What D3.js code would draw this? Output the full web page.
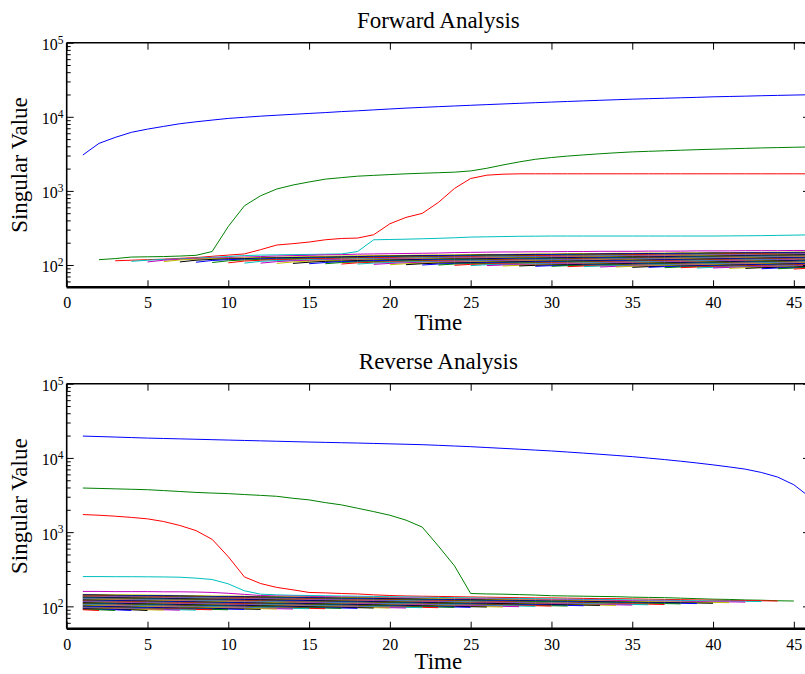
<!DOCTYPE html>
<html><head><meta charset="utf-8">
<script src="https://cdn.jsdelivr.net/npm/d3@7"></script>
<style>
body{margin:0;background:#fff}
svg{display:block}
text{font-family:"Liberation Serif","Times New Roman",serif;fill:#000}
</style>
</head><body><script>
// ---------------- DATA ----------------
const lastStep = 46;
const xDomain = [0, 46];
const yDomain = [50, 100000];
const xTickValues = [0, 5, 10, 15, 20, 25, 30, 35, 40, 45];
const yMajorTicks = [100, 1000, 10000, 100000];
const yMajorExponents = ["2", "3", "4", "5"];
const yMinorTicks = [60,70,80,90,200,300,400,500,600,700,800,900,2000,3000,4000,5000,6000,7000,8000,9000,20000,30000,40000,50000,60000,70000,80000,90000];
const colorCycle = ["#0000ff", "#008000", "#ff0000", "#00bfbf", "#bf00bf", "#bfbf00", "#000000"];
const panelTitles = ["Forward Analysis", "Reverse Analysis"];
const xAxisLabel = "Time";
const yAxisLabel = "Singular Value";

// Forward analysis: singular value k exists from step k+1 to the last step
const forwardLines = [
[3050,4380,5270,6170,6820,7420,8060,8560,9030,9510,9850,10200,10500,10800,11100,11400,11750,12050,12400,12750,13100,13400,13700,14000,14300,14600,14900,15200,15500,15800,16100,16400,16700,17000,17300,17550,17800,18050,18300,18600,18800,19000,19250,19450,19650,19850],
[118,122,128,129,130,132,135,152,331,630,860,1060,1200,1320,1440,1510,1580,1620,1660,1700,1730,1760,1790,1860,2020,2240,2460,2670,2820,2950,3060,3170,3270,3360,3420,3480,3540,3600,3650,3700,3750,3800,3840,3880,3920],
[114,116,118,120,123,126,131,136,141,161,186,194,204,219,228,231,256,360,439,497,698,1080,1470,1630,1680,1700,1700,1700,1700,1700,1700,1700,1700,1700,1700,1700,1700,1700,1700,1700,1700,1700,1700,1700],
[112,116,119,121,124,127,130,134,136,137,138,139,140,141,152,219,221,223,226,229,233,238,240,242,244,245,246,246,246,246,246,246,246,246,246,246,246,247,248,249,251,253,255],
[110,116,119,122,124,126,128,130,132,134,135,137,138,140,141,142,143,144,145,147,148,149,150,150,151,151,152,152,153,153,153,154,154,154,155,155,155,156,156,156,157,157],
[111,117,120,122,123,125,126,127,129,130,131,132,133,134,134,135,136,137,137,138,139,139,140,141,141,142,143,143,144,144,145,145,146,146,147,147,148,148,149,149,150],
[110,116,119,121,122,124,125,126,127,128,129,130,131,132,133,134,134,135,136,137,137,138,139,139,140,140,141,142,142,143,143,144,144,145,145,146,146,147,148,148],
[109,115,118,120,121,123,124,125,126,127,128,129,130,131,132,133,133,134,135,136,136,137,138,138,139,140,140,141,141,142,143,143,144,144,145,145,146,146,147],
[108,114,117,119,120,122,123,124,125,126,127,128,129,130,130,131,132,133,133,134,135,135,136,137,137,138,139,139,140,140,141,142,142,143,143,144,144,145],
[107,113,116,118,119,121,122,123,124,125,126,127,128,128,129,130,131,131,132,133,134,134,135,136,136,137,138,138,139,139,140,141,141,142,142,143,144],
[106,112,115,116,118,119,120,121,122,123,124,125,126,127,127,128,129,130,130,131,132,132,133,134,134,135,136,136,137,137,138,139,139,140,141,142],
[106,111,114,115,117,118,119,120,121,122,123,124,125,125,126,127,128,128,129,130,131,131,132,133,133,134,135,135,136,137,137,138,139,140,141],
[105,110,113,114,116,117,118,119,120,121,122,123,123,124,125,126,126,127,128,129,129,130,131,131,132,133,133,134,135,135,136,137,138,139],
[105,109,112,113,115,116,117,118,119,120,121,121,122,123,124,124,125,126,127,127,128,129,129,130,131,131,132,133,134,135,136,137,138],
[104,108,111,112,114,115,116,117,118,118,119,120,121,121,122,123,124,124,125,126,126,127,128,128,129,130,131,132,133,134,135,136],
[104,108,110,111,113,114,115,116,117,117,118,119,120,120,121,122,123,123,124,125,125,126,127,128,129,130,131,132,133,134,135],
[103,107,109,110,112,113,114,115,115,116,117,118,118,119,120,121,121,122,123,124,124,125,126,127,128,129,130,131,132,133],
[103,106,108,110,111,112,113,114,115,115,116,117,118,118,119,120,121,121,122,123,124,125,126,127,128,129,130,131,132],
[102,105,107,109,110,111,112,113,114,114,115,116,117,117,118,119,120,120,121,122,123,124,125,126,127,128,129,130],
[101,104,106,108,109,110,111,112,113,114,114,115,116,117,117,118,119,120,121,122,123,124,125,126,127,128,129],
[101,104,106,107,108,109,110,111,112,113,113,114,115,116,116,117,118,119,120,121,122,123,124,125,126,127],
[100,103,105,106,107,108,109,110,111,112,113,113,114,115,116,117,118,119,120,121,122,123,124,125,126],
[100,103,104,105,106,107,108,109,110,111,112,112,113,114,115,116,117,118,119,120,121,122,123,124],
[99,102,103,104,105,106,107,108,109,110,111,112,113,114,115,116,117,118,119,120,121,122,123],
[98,101,102,103,104,105,106,107,108,109,110,111,112,113,114,115,116,117,118,119,120,121],
[98,100,101,102,103,104,105,106,107,108,109,110,111,112,113,114,115,116,117,118,120],
[97,99,100,101,102,103,104,105,106,107,108,109,110,111,112,113,114,115,116,118],
[97,99,100,101,102,103,104,105,106,107,108,109,110,111,112,113,114,115,117],
[96,98,99,100,101,102,103,104,105,106,107,108,109,110,111,112,113,115],
[96,98,99,100,101,102,103,104,105,106,107,108,109,110,111,112,114],
[95,97,98,99,100,101,102,103,104,105,106,107,108,109,110,112],
[95,97,98,99,100,101,102,103,104,105,106,107,108,109,111],
[94,96,97,98,99,100,101,102,103,104,105,106,107,109],
[94,96,97,98,99,100,101,102,103,104,105,106,108],
[93,95,96,97,98,99,100,101,102,103,104,106],
[93,95,96,97,98,99,100,101,102,103,105],
[92,94,95,96,97,98,99,100,101,103],
[92,94,95,96,97,98,99,100,102],
[91,93,94,95,96,97,98,100],
[91,93,94,95,96,97,99],
[90,92,93,94,95,97],
[90,92,93,94,96],
[89,91,92,94],
[89,91,93],
[88,91],
[88]
];

// Reverse analysis: singular value k exists from step 1 to step lastStep-k
const reverseLines = [
[19700,19400,19100,18800,18500,18280,18060,17840,17620,17400,17190,16980,16780,16570,16370,16200,16030,15870,15670,15470,15280,15080,14780,14470,14170,13800,13450,13100,12750,12410,12000,11600,11200,10800,10400,9950,9500,9030,8550,8060,7560,7060,6360,5520,4350,2950],
[3930,3880,3830,3780,3730,3630,3530,3430,3360,3300,3210,3130,3040,2860,2720,2500,2330,2100,1890,1690,1450,1170,650,351,149,147,146,144,142,139,138,137,136,135,133,132,131,129,127,125,124,122,121,119,118],
[1725,1690,1640,1580,1510,1390,1230,1050,800,467,249,203,180,167,154,152,149,147,143,140,138,137,136,135,134,133,132,131,130,130,129,128,127,127,126,125,124,123,122,121,120,120,119,118],
[252,252,251,251,250,249,247,240,230,201,162,146,143,141,140,139,138,137,136,135,134,133,132,131,130,129,128,128,127,126,125,124,124,123,122,121,121,120,119,118,118,117,116],
[159,159,158,158,158,157,157,156,154,150,145,140,138,137,136,135,134,133,132,131,130,129,128,128,127,126,125,124,124,123,122,121,121,120,119,118,118,117,116,115,115,114],
[145,144,143,143,142,141,140,139,138,138,137,136,135,134,133,132,132,131,130,129,128,127,127,126,125,124,123,122,122,121,120,119,118,117,116,116,115,114,113,113,112],
[143,142,141,140,140,139,138,137,136,135,135,134,133,132,131,130,129,129,128,127,126,125,124,123,123,122,121,120,119,118,118,117,116,115,114,113,113,112,111,110],
[142,141,140,139,139,138,137,136,135,134,133,132,132,131,130,129,128,127,126,125,125,124,123,122,121,120,119,118,118,117,116,115,114,113,112,111,111,110,109],
[140,139,138,137,137,136,135,134,133,132,131,130,130,129,128,127,126,125,124,124,123,122,121,120,119,118,117,117,116,115,114,113,112,111,111,110,109,108],
[139,138,137,136,135,134,133,133,132,131,130,129,128,127,126,125,124,123,122,122,121,120,119,118,117,116,115,114,113,112,111,111,110,109,108,107,106],
[137,136,135,134,133,132,132,131,130,129,128,127,126,125,124,123,122,121,121,120,119,118,117,116,115,114,113,112,111,111,110,109,108,107,106,105],
[136,135,134,133,132,131,130,129,128,128,127,126,125,124,123,122,121,120,119,118,117,116,115,114,113,112,112,111,110,109,108,107,106,105,104],
[134,133,132,131,130,129,128,127,126,126,125,124,123,122,121,120,119,118,117,116,115,114,113,112,111,110,110,109,108,107,106,105,104,103],
[133,132,131,130,129,128,127,126,125,125,124,123,122,121,120,119,118,117,116,115,114,113,112,111,110,110,109,108,107,106,105,104,103],
[131,130,129,128,127,126,125,124,124,123,122,121,120,119,118,117,116,115,114,113,112,111,110,109,108,107,106,106,105,104,103,102],
[130,129,128,127,126,125,124,123,122,121,120,119,118,117,116,115,114,114,113,112,111,110,109,108,107,106,105,104,103,102,101],
[128,127,126,125,124,123,122,121,121,120,119,118,117,116,115,114,113,112,111,110,109,108,107,106,105,104,104,103,102,101],
[127,126,125,124,123,122,121,120,119,118,117,116,115,114,114,113,112,111,110,109,108,107,106,105,104,103,102,101,100],
[125,124,123,122,121,120,119,118,117,116,115,114,113,112,112,111,110,109,108,107,106,105,104,103,102,101,100,99],
[124,123,122,121,120,119,118,117,116,115,114,113,112,111,110,109,108,107,106,105,104,103,102,101,100,99,98],
[122,121,120,119,118,117,116,115,114,113,112,111,110,110,109,108,107,106,105,104,103,102,101,100,99,98],
[121,120,119,118,117,116,115,114,113,112,111,110,109,108,107,106,105,104,103,102,101,100,99,98,97],
[119,118,117,116,115,114,113,112,111,110,109,108,108,107,106,105,104,103,102,101,100,99,98,97],
[118,117,116,115,114,113,112,111,110,109,108,107,106,105,104,103,102,101,100,99,98,97,96],
[116,115,114,113,112,111,110,109,108,107,106,106,105,104,103,102,101,100,99,98,97,96],
[115,114,113,112,111,110,109,108,107,106,105,104,103,102,101,100,99,98,97,96,95],
[113,112,111,110,109,108,107,106,105,104,103,103,102,101,100,99,98,97,96,95],
[112,111,110,109,108,107,106,105,104,103,103,102,101,100,99,98,97,96,95],
[110,109,108,107,106,105,104,103,102,102,101,100,99,98,97,96,95,94],
[109,108,107,106,105,104,103,102,101,101,100,99,98,97,96,95,94],
[107,106,105,104,103,102,101,100,99,99,98,97,96,95,94,93],
[106,105,104,103,102,101,100,99,99,98,97,96,95,94,93],
[104,103,102,101,100,99,98,98,97,96,95,94,93,92],
[103,102,101,100,99,98,97,97,96,95,94,93,92],
[101,100,99,98,97,96,95,95,94,93,92,91],
[100,99,98,97,96,95,94,93,92,92,91],
[98,97,96,95,94,93,92,92,91,90],
[97,96,95,94,93,92,92,91,90],
[96,95,94,93,92,91,90,89],
[95,94,93,92,91,90,89],
[94,93,92,91,90,89],
[93,92,91,90,88],
[92,91,90,88],
[91,90,88],
[90,88],
[88]
];

// ---------------- CHART ----------------
const W = 805, H = 674;
const svg = d3.select("body").append("svg").attr("width", W).attr("height", H);

const plotLeft = 66.7, plotRight = 810;
const panels = [
  {top: 42.7, bottom: 287.3, lines: forwardLines, align: "end", labelGap: 42.8},
  {top: 383.7, bottom: 628.7, lines: reverseLines, align: "start", labelGap: 40.3}
];

panels.forEach((p, pi) => {
  const x = d3.scaleLinear().domain(xDomain).range([plotLeft, plotRight]);
  const y = d3.scaleLog().domain(yDomain).range([p.bottom, p.top]);
  const g = svg.append("g");

  const clipId = "clip" + pi;
  svg.append("clipPath").attr("id", clipId).append("rect")
    .attr("x", plotLeft).attr("y", p.top).attr("width", plotRight - plotLeft).attr("height", p.bottom - p.top);

  const lineGen = d3.line().x(d => x(d[0])).y(d => y(d[1]));
  const lg = g.append("g").attr("clip-path", `url(#${clipId})`);
  p.lines.forEach((vals, k) => {
    const start = p.align === "end" ? lastStep - vals.length + 1 : 1;
    const pts = vals.map((v, i) => [start + i, v]);
    lg.append("path").attr("d", lineGen(pts)).attr("fill", "none")
      .attr("stroke", colorCycle[k % colorCycle.length]).attr("stroke-width", 1);
  });

  // axes (ticks inward on all four sides)
  const fontTick = 16;
  const axB = g.append("g").attr("transform", `translate(0,${p.bottom})`)
    .call(d3.axisBottom(x).tickValues(xTickValues).tickSizeInner(-7).tickSizeOuter(0).tickPadding(9.5).tickFormat(d3.format("d")));
  const axT = g.append("g").attr("transform", `translate(0,${p.top})`)
    .call(d3.axisTop(x).tickValues(xTickValues).tickSizeInner(-7).tickSizeOuter(0).tickFormat(""));
  const axL = g.append("g").attr("transform", `translate(${plotLeft},0)`)
    .call(d3.axisLeft(y).tickValues(yMajorTicks).tickSizeInner(-7).tickSizeOuter(0).tickPadding(3).tickFormat(""));
  const axLm = g.append("g").attr("transform", `translate(${plotLeft},0)`)
    .call(d3.axisLeft(y).tickValues(yMinorTicks).tickSizeInner(-4).tickSizeOuter(0).tickFormat(""));
  const axR = g.append("g").attr("transform", `translate(${plotRight},0)`)
    .call(d3.axisRight(y).tickValues(yMajorTicks).tickSizeInner(-7).tickSizeOuter(0).tickFormat(""));
  const axRm = g.append("g").attr("transform", `translate(${plotRight},0)`)
    .call(d3.axisRight(y).tickValues(yMinorTicks).tickSizeInner(-4).tickSizeOuter(0).tickFormat(""));
  [axB, axT, axL, axLm, axR, axRm].forEach(a => {
    a.attr("font-family", null);
    a.select(".domain").remove();
    a.selectAll(".tick line").attr("stroke", "#000").attr("stroke-width", 1);
  });
  axB.selectAll(".tick text").attr("font-size", fontTick).attr("fill", "#000");

  // y tick labels 10^n
  yMajorTicks.forEach((v, i) => {
    const t = g.append("text").attr("x", 63.5).attr("y", y(v) + 7.4)
      .attr("text-anchor", "end").attr("font-size", fontTick);
    t.append("tspan").text("10");
    t.append("tspan").attr("dy", -6.5).attr("font-size", 11.5).text(yMajorExponents[i]);
  });

  // spines
  g.append("line").attr("x1", plotLeft).attr("x2", plotRight).attr("y1", p.top).attr("y2", p.top)
    .attr("stroke", "#000").attr("stroke-width", 1.6);
  g.append("line").attr("x1", plotLeft).attr("x2", plotRight).attr("y1", p.bottom).attr("y2", p.bottom)
    .attr("stroke", "#000").attr("stroke-width", 2.6);
  g.append("line").attr("x1", plotLeft).attr("x2", plotLeft).attr("y1", p.top).attr("y2", p.bottom)
    .attr("stroke", "#000").attr("stroke-width", 1.6);
  g.append("line").attr("x1", plotRight).attr("x2", plotRight).attr("y1", p.top).attr("y2", p.bottom)
    .attr("stroke", "#000").attr("stroke-width", 1.6);

  // title and labels
  const cx = (plotLeft + plotRight) / 2;
  g.append("text").attr("x", cx).attr("y", p.top - 15).attr("text-anchor", "middle")
    .attr("font-size", 23).text(panelTitles[pi]);
  g.append("text").attr("x", cx).attr("y", p.bottom + p.labelGap).attr("text-anchor", "middle")
    .attr("font-size", 23).text(xAxisLabel);
  g.append("text").attr("transform", `translate(27,${(p.top + p.bottom) / 2}) rotate(-90)`)
    .attr("text-anchor", "middle").attr("font-size", 23).text(yAxisLabel);
});
</script></body></html>
